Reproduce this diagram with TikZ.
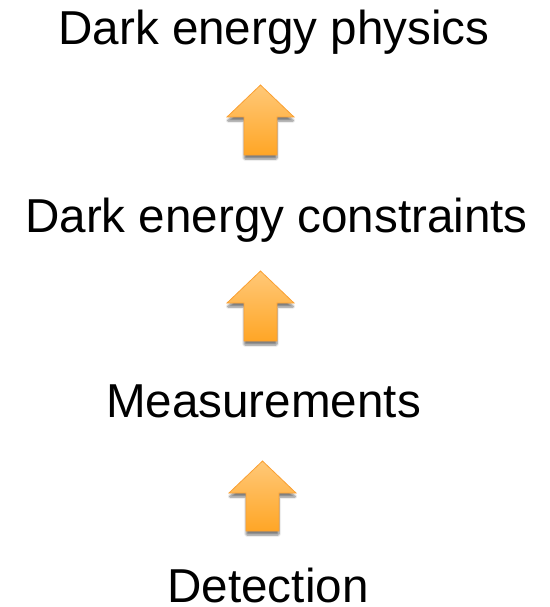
\documentclass[tikz,border=0pt]{standalone}
\usepackage{fontspec}
\setmainfont{Liberation Sans}
\usetikzlibrary{shadows.blur}
\tikzset{
  x=1pt, y=-1pt,
  label/.style={inner sep=0pt, anchor=base, text depth=0pt, font=\fontsize{47.6}{50}\selectfont, text=black},
  blockarrow/.style={draw={rgb,255:red,250;green,160;blue,50}, line width=0.8pt, top color={rgb,255:red,255;green,200;blue,120}, bottom color={rgb,255:red,255;green,166;blue,38},
    blur shadow={shadow xshift=0pt, shadow yshift=-4pt, shadow opacity=50, shadow blur steps=6, shadow blur extra rounding=1pt}}
}
\newcommand\blockup[2]{% center x, tip y
  \path[blockarrow] (#1,#2) -- ++(33.5,32) -- ++(-17,0) -- ++(0,38) -- ++(-33,0) -- ++(0,-38) -- ++(-17,0) -- cycle;
}
\begin{document}
\begin{tikzpicture}
\useasboundingbox (0,0) rectangle (549,607);
\node[label] (phys) at (274,45) {Dark energy physics};
\node[label] (cons) at (276.5,232) {Dark energy constraints};
\node[label] (meas) at (263.5,417) {Measurements};
\node[label] (det) at (268,602) {Detection};
\blockup{260.5}{85}
\blockup{260.5}{271}
\blockup{262.5}{461}
\end{tikzpicture}
\end{document}
